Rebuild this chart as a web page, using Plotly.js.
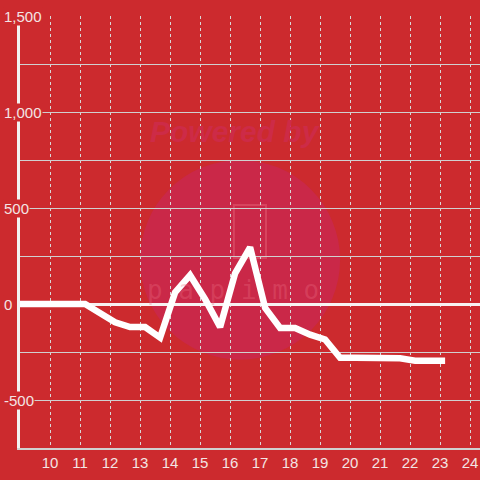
<!DOCTYPE html>
<html>
<head>
<meta charset="utf-8">
<script src="https://cdn.plot.ly/plotly-3.0.1.min.js"></script>
<style>html,body{margin:0;padding:0;background:#cc2a2e;}#chart{width:480px;height:480px;}</style>
</head>
<body>
<div id="chart"></div>
<script>
// Data
const xValues = [9, 11.17, 12.17, 12.67, 13.17, 13.67, 14.17, 14.67, 15.17, 15.67, 16.17, 16.67, 17.17, 17.67, 18.17, 18.67, 19.17, 19.67, 20.17, 20.67, 21.17, 21.67, 22.17, 22.67, 23.17];
const yValues = [0, 0, -95, -120, -120, -175, 60, 150, 25, -120, 160, 295, -20, -125, -125, -160, -185, -280, -280, -280, -280, -283, -295, -295, -295];
const xTickVals = [10, 11, 12, 13, 14, 15, 16, 17, 18, 19, 20, 21, 22, 23, 24];
const xTickText = ["10", "11", "12", "13", "14", "15", "16", "17", "18", "19", "20", "21", "22", "23", "24"];
const yGridVals = [-750, -500, -250, 0, 250, 500, 750, 1000, 1250, 1500];
const yLabelVals = [1500, 1000, 500, 0, -500];
const yLabelText = ["1,500", "1,000", "500", "0", "-500"];

const bg = '#cc2a2e';
const labelColor = '#f3e4e4';

const yLabels = yLabelVals.map((v, i) => ({
  xref: 'paper', yref: 'y', x: -0.037, y: v,
  xanchor: 'left', yanchor: 'middle',
  text: yLabelText[i], showarrow: false,
  bgcolor: bg, borderpad: 0,
  font: {family: 'Liberation Sans, Arial, sans-serif', size: 15, color: labelColor}
}));

const layout = {
  width: 480, height: 480,
  margin: {l: 20, r: 0, t: 16, b: 32},
  paper_bgcolor: bg, plot_bgcolor: bg,
  showlegend: false,
  xaxis: {
    range: [9, 24.333], tickvals: xTickVals, ticktext: xTickText,
    showgrid: true, gridcolor: '#d8d8d8', gridwidth: 1, griddash: '3px,3px',
    showline: true, linecolor: '#d0d0d0', linewidth: 2,
    zeroline: false, ticks: '',
    tickfont: {family: 'Liberation Sans, Arial, sans-serif', size: 15, color: labelColor}
  },
  yaxis: {
    range: [-750, 1500], tickvals: yGridVals, showticklabels: false,
    showgrid: true, gridcolor: '#d0d0d0', gridwidth: 1,
    showline: true, linecolor: '#f2f2f2', linewidth: 3,
    zeroline: true, zerolinecolor: '#f7f2f2', zerolinewidth: 3,
    ticks: ''
  },
  shapes: [
    {type: 'circle', layer: 'below', xref: 'x', yref: 'y',
     x0: 13, x1: 19.67, y0: -290, y1: 750,
     fillcolor: '#ca2848', line: {width: 0}},
    {type: 'rect', layer: 'below', xref: 'x', yref: 'y',
     x0: 16.13, x1: 17.2, y0: 240, y1: 515,
     fillcolor: 'rgba(0,0,0,0)', line: {width: 2, color: 'rgba(235,110,130,0.4)'}}
  ],
  annotations: [
    {xref: 'x', yref: 'y', x: 16.15, y: 900, text: '<b><i>Powered by</i></b>', showarrow: false,
     font: {family: 'Liberation Sans, Arial, sans-serif', size: 30, color: '#cd2b47'}},
    {xref: 'x', yref: 'y', x: 16.1, y: 75, text: 'p a p i m o', showarrow: false,
     font: {family: 'DejaVu Sans Mono, monospace', size: 26, color: 'rgba(235,110,130,0.32)'}}
  ].concat(yLabels)
};

const data = [{
  type: 'scatter', mode: 'lines', x: xValues, y: yValues,
  line: {color: '#ffffff', width: 6.5}, hoverinfo: 'skip'
}];

Plotly.newPlot('chart', data, layout, {displayModeBar: false, staticPlot: true});
</script>
</body>
</html>
